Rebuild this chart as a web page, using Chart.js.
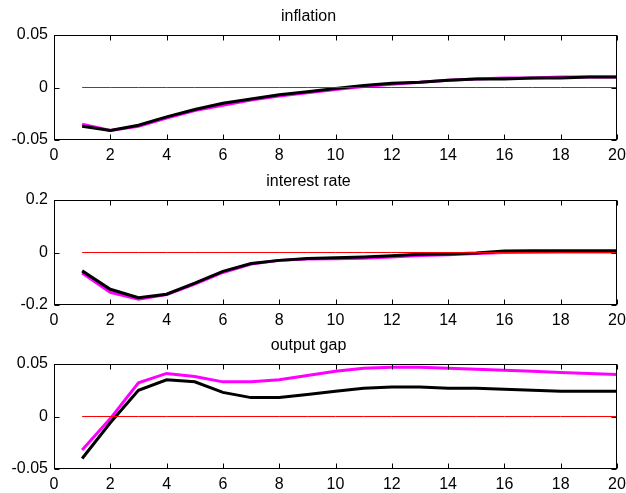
<!DOCTYPE html>
<html>
<head>
<meta charset="utf-8">
<script src="https://cdn.jsdelivr.net/npm/chart.js@4.4.0/dist/chart.umd.min.js"></script>
<style>
    body { margin: 0; background: #fff; }
    canvas { position: absolute; left: 0; }
</style>
</head>
<body>
<canvas id="inflationChart" width="626" height="165" style="top:0px"></canvas>
<canvas id="interestChart" width="626" height="165" style="top:165px"></canvas>
<canvas id="outputChart" width="626" height="164" style="top:329px"></canvas>
<script>
const periods = [1, 2, 3, 4, 5, 6, 7, 8, 9, 10, 11, 12, 13, 14, 15, 16, 17, 18, 19, 20];
const xTicks = [0, 2, 4, 6, 8, 10, 12, 14, 16, 18, 20];

const inflationBlack = [-0.037, -0.041, -0.036, -0.028, -0.021, -0.015, -0.011, -0.007, -0.004, -0.001, 0.002, 0.004, 0.005, 0.007, 0.008, 0.008, 0.009, 0.009, 0.010, 0.010];
const inflationMagenta = [-0.035, -0.041, -0.037, -0.029, -0.022, -0.017, -0.012, -0.008, -0.005, -0.002, 0.001, 0.003, 0.005, 0.007, 0.008, 0.009, 0.009, 0.010, 0.010, 0.010];
const inflationTicks = [-0.05, 0, 0.05];

const interestBlack = [-0.070, -0.140, -0.172, -0.159, -0.117, -0.072, -0.042, -0.030, -0.023, -0.020, -0.017, -0.012, -0.007, -0.006, -0.002, 0.006, 0.007, 0.007, 0.007, 0.007];
const interestMagenta = [-0.078, -0.152, -0.178, -0.160, -0.120, -0.076, -0.044, -0.030, -0.025, -0.024, -0.022, -0.017, -0.011, -0.009, -0.004, 0.000, 0.001, 0.002, 0.002, 0.002];
const interestTicks = [-0.2, 0, 0.2];

const outputBlack = [-0.040, -0.006, 0.025, 0.035, 0.033, 0.023, 0.018, 0.018, 0.021, 0.024, 0.027, 0.028, 0.028, 0.027, 0.027, 0.026, 0.025, 0.024, 0.024, 0.024];
const outputMagenta = [-0.032, -0.002, 0.032, 0.041, 0.038, 0.033, 0.033, 0.035, 0.039, 0.043, 0.046, 0.047, 0.047, 0.046, 0.045, 0.044, 0.043, 0.042, 0.041, 0.040];
const outputTicks = [-0.05, 0, 0.05];

const zeroLine = periods.map(() => 0);

Chart.defaults.font.family = '"Liberation Sans", Arial, sans-serif';
Chart.defaults.font.size = 16;
Chart.defaults.color = '#000';

// matlab style box with inward ticks
const axesBox = {
    id: 'axesBox',
    afterDraw(chart) {
        const { ctx, chartArea: a, scales } = chart;
        const left = Math.round(a.left) + 0.5;
        const right = Math.round(a.right) - 0.5;
        const top = Math.round(a.top) + 0.5;
        const bottom = Math.round(a.bottom) - 0.5;
        ctx.save();
        ctx.strokeStyle = '#000';
        ctx.lineWidth = 1;
        ctx.beginPath();
        scales.x.ticks.forEach(t => {
            const px = Math.round(scales.x.getPixelForValue(t.value)) + 0.5;
            ctx.moveTo(px, top);
            ctx.lineTo(px, top + 5);
            ctx.moveTo(px, bottom);
            ctx.lineTo(px, bottom - 5);
        });
        scales.y.ticks.forEach(t => {
            const py = Math.round(scales.y.getPixelForValue(t.value)) + 0.5;
            ctx.moveTo(left, py);
            ctx.lineTo(left + 5, py);
            ctx.moveTo(right, py);
            ctx.lineTo(right - 5, py);
        });
        ctx.stroke();
        ctx.strokeRect(left, top, right - left, bottom - top);
        ctx.restore();
    }
};

function makePanel(id, title, black, magenta, yTicks, xHeight) {
    const ctx = document.getElementById(id).getContext('2d');
    new Chart(ctx, {
        type: 'line',
        data: {
            datasets: [
                {
                    data: periods.map((p, i) => ({ x: p, y: zeroLine[i] })),
                    borderColor: '#ff0000',
                    borderWidth: 1
                },
                {
                    data: periods.map((p, i) => ({ x: p, y: black[i] })),
                    borderColor: '#000000',
                    borderWidth: 3
                },
                {
                    data: periods.map((p, i) => ({ x: p, y: magenta[i] })),
                    borderColor: '#ff00ff',
                    borderWidth: 3
                }
            ]
        },
        options: {
            responsive: false,
            animation: false,
            layout: { padding: { left: 0, right: 9, top: 0, bottom: 0 } },
            elements: {
                point: { radius: 0 },
                line: { tension: 0 }
            },
            plugins: {
                legend: { display: false },
                tooltip: { enabled: false },
                title: {
                    display: true,
                    text: title,
                    color: '#000',
                    font: { size: 16, weight: 'normal' },
                    padding: { top: 7, bottom: 8.8 }
                }
            },
            scales: {
                x: {
                    type: 'linear',
                    min: 0,
                    max: 20,
                    grid: { display: false, drawTicks: false },
                    border: { display: false },
                    afterBuildTicks: scale => { scale.ticks = xTicks.map(v => ({ value: v })); },
                    afterFit: scale => {
                        scale.height = xHeight;
                        scale.paddingLeft = 0;
                        scale.paddingRight = 0;
                    },
                    ticks: { padding: 6, maxRotation: 0, autoSkip: false }
                },
                y: {
                    min: yTicks[0],
                    max: yTicks[yTicks.length - 1],
                    grid: { display: false, drawTicks: false },
                    border: { display: false },
                    afterBuildTicks: scale => { scale.ticks = yTicks.map(v => ({ value: v })); },
                    afterFit: scale => { scale.width = 54; },
                    ticks: {
                        padding: 6,
                        callback: v => String(Number(v.toFixed(2)))
                    }
                }
            }
        },
        plugins: [axesBox]
    });
}

makePanel('inflationChart', 'inflation', inflationBlack, inflationMagenta, inflationTicks, 25);
makePanel('interestChart', 'interest rate', interestBlack, interestMagenta, interestTicks, 25);
makePanel('outputChart', 'output gap', outputBlack, outputMagenta, outputTicks, 24);
</script>
</body>
</html>
